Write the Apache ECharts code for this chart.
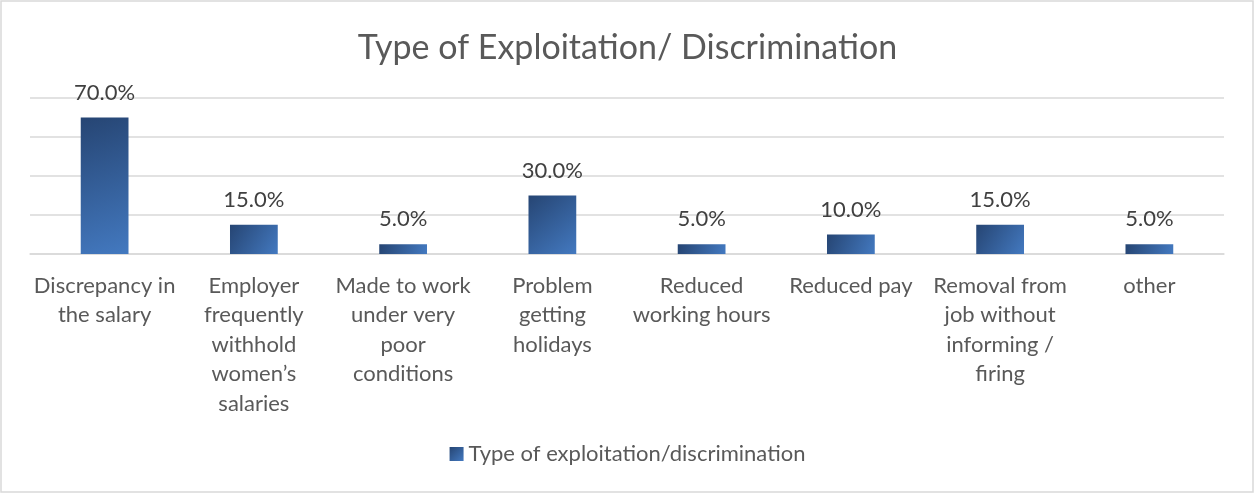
<!DOCTYPE html>
<html>
<head>
<meta charset="utf-8">
<script src="https://cdn.jsdelivr.net/npm/echarts@6/dist/echarts.min.js"></script>
<style>
  html, body { margin: 0; padding: 0; background: #fff; }
  #chart { width: 1255px; height: 493px; }
</style>
</head>
<body>
<div id="chart"></div>
<script>
// Categories (line breaks follow the wrapped axis labels)
const categories = [
  'Discrepancy in\nthe salary',
  'Employer\nfrequently\nwithhold\nwomen\u2019s\nsalaries',
  'Made to work\nunder very\npoor\nconditions',
  'Problem\ngetting\nholidays',
  'Reduced\nworking hours',
  'Reduced pay',
  'Removal from\njob without\ninforming /\nfiring',
  'other'
];
// Share of respondents, percent
const values = [70, 15, 5, 30, 5, 10, 15, 5];
const seriesName = 'Type of exploitation/discrimination';
const titleText = 'Type of Exploitation/ Discrimination';

const FONT = 'Lato, "Open Sans", sans-serif';
const barFill = new echarts.graphic.LinearGradient(0, 0, 1, 1, [
  { offset: 0, color: '#264573' },
  { offset: 1, color: '#4379c0' }
]);

const chart = echarts.init(document.getElementById('chart'));
chart.setOption({
  animation: false,
  backgroundColor: '#ffffff',
  title: {
    text: titleText,
    left: 'center',
    top: 26,
    textStyle: { fontFamily: FONT, fontSize: 34, fontWeight: 'normal', color: '#595959' }
  },
  legend: {
    bottom: 23,
    left: 'center',
    itemWidth: 14,
    itemHeight: 14,
    itemGap: 6,
    icon: 'rect',
    textStyle: { fontFamily: FONT, fontSize: 22, color: '#595959' },
    data: [{ name: seriesName, itemStyle: { color: barFill } }]
  },
  graphic: [{
    type: 'rect',
    shape: { x: 1, y: 1, width: 1252, height: 491 },
    style: { fill: 'none', stroke: '#d9d9d9', lineWidth: 1.5 },
    silent: true
  }],
  grid: { left: 30, right: 31, top: 98, bottom: 239, containLabel: false },
  xAxis: {
    type: 'category',
    data: categories,
    axisLine: { show: true, lineStyle: { color: '#d9d9d9', width: 1.5 } },
    axisTick: { show: false },
    axisLabel: {
      interval: 0,
      margin: 17,
      fontFamily: FONT,
      fontSize: 22,
      lineHeight: 29.5,
      color: '#595959'
    }
  },
  yAxis: {
    type: 'value',
    min: 0,
    max: 80,
    interval: 20,
    axisLabel: { show: false },
    axisLine: { show: false },
    axisTick: { show: false },
    splitLine: { lineStyle: { color: '#d9d9d9', width: 1.5 } }
  },
  series: [{
    name: seriesName,
    type: 'bar',
    data: values,
    barWidth: '32%',
    itemStyle: { color: barFill },
    label: {
      show: true,
      position: 'top',
      distance: 14,
      fontFamily: FONT,
      fontSize: 22,
      color: '#404040',
      formatter: p => p.value.toFixed(1) + '%'
    }
  }]
});
</script>
</body>
</html>
